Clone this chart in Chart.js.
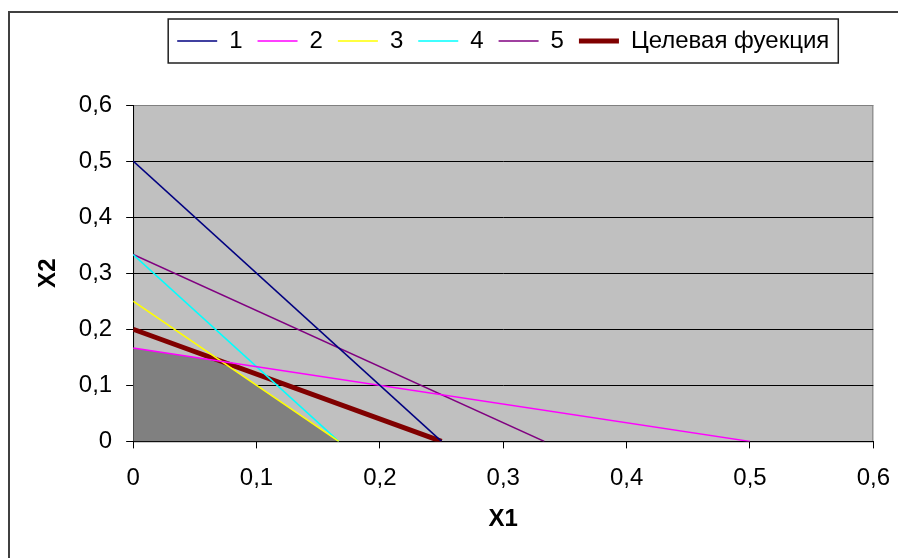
<!DOCTYPE html>
<html>
<head>
<meta charset="UTF-8"/>
<title>Графическое решение задачи ЛП</title>
<script src="https://cdn.jsdelivr.net/npm/chart.js@4.4.0/dist/chart.umd.min.js"></script>
<style>
    html, body { margin: 0; padding: 0; overflow: hidden; background: #fff; }
    /* рамка области диаграммы (уходит за край окна) */
    #frame {
        position: absolute; left: 8px; top: 11px;
        width: 1000px; height: 1000px;
        border-top: 2px solid #404040;
        border-left: 2px solid #404040;
    }
    /* чуть шире окна: справа только пустое поле под подписью 0,6 */
    #chartBox { position: absolute; left: 0; top: 0; width: 906px; height: 558px; }
</style>
</head>
<body>
<div id="frame"></div>
<div id="chartBox">
    <canvas id="lpChart"></canvas>
</div>

<script type="text/javascript">

    // ограничения: точки пересечения с осями [x1, x2]
    var line1 = [[0, 0.5], [0.25, 0]];
    var line2 = [[0, 0.1667], [0.5, 0]];
    var line3 = [[0, 0.25], [0.1667, 0]];
    var line4 = [[0, 0.3333], [0.1667, 0]];
    var line5 = [[0, 0.3333], [0.3333, 0]];
    // целевая функция
    var target = [[0, 0.2], [0.25, 0]];
    // область допустимых решений
    var region = [[0, 0.1667], [0.0714, 0.1429], [0.1667, 0]];

    var seriesNames = ['1', '2', '3', '4', '5', 'Целевая фуекция'];
    var tickLabels = ['0', '0,1', '0,2', '0,3', '0,4', '0,5', '0,6'];

    var FONT = 'Liberation Sans, Arial, sans-serif';

    function pts(arr) {
        return arr.map(function (p) { return {x: p[0], y: p[1]}; });
    }

    function series(i, data, color, width) {
        return {
            label: seriesNames[i],
            data: pts(data),
            showLine: true,
            borderColor: color,
            backgroundColor: color,
            borderWidth: width,
            pointRadius: 0,
            fill: false
        };
    }

    // серый фон, рамка области построения, рамка легенды
    var plotFrame = {
        id: 'plotFrame',
        beforeInit: function (chart) {
            var legend = chart.legend;
            if (!legend) return;
            var fit = legend.fit;
            legend.fit = function () {
                fit.call(this);
                this.height = 91; // место под легендой
            };
        },
        afterLayout: function (chart) {
            // легенда по центру области построения
            chart.legend.left = chart.chartArea.left;
            chart.legend.right = chart.chartArea.right;
        },
        beforeDraw: function (chart) {
            var a = chart.chartArea, ctx = chart.ctx;
            ctx.save();
            ctx.fillStyle = '#c0c0c0';
            ctx.fillRect(a.left, a.top, a.right - a.left, a.bottom - a.top);
            ctx.strokeStyle = '#808080';
            ctx.lineWidth = 1;
            ctx.strokeRect(a.left + 0.5, a.top + 0.5, a.right - a.left - 1, a.bottom - a.top);
            ctx.restore();
        },
        afterDraw: function (chart) {
            var boxes = chart.legend.legendHitBoxes;
            if (!boxes || !boxes.length) return;
            var l = Infinity, r = -Infinity;
            boxes.forEach(function (b) {
                l = Math.min(l, b.left);
                r = Math.max(r, b.left + b.width);
            });
            var cy = boxes[0].top + boxes[0].height / 2;
            var ctx = chart.ctx;
            ctx.save();
            ctx.strokeStyle = '#202020';
            ctx.lineWidth = 1.5;
            ctx.strokeRect(l - 9, cy - 22, r - l + 18, 44);
            ctx.restore();
        }
    };

    var ctx = document.getElementById('lpChart').getContext('2d');
    var lpChart = new Chart(ctx, {
        type: 'scatter',
        data: {
            datasets: [
                series(0, line1, '#000080', 1.5),
                series(1, line2, '#ff00ff', 1.5),
                series(2, line3, '#ffff00', 1.5),
                series(3, line4, '#00ffff', 1.5),
                series(4, line5, '#800080', 1.5),
                series(5, target, '#800000', 5),
                {
                    label: 'ОДР',
                    data: pts(region),
                    showLine: true,
                    fill: 'origin',
                    backgroundColor: '#808080',
                    borderColor: 'rgba(0,0,0,0)',
                    borderWidth: 1,
                    pointRadius: 0
                }
            ]
        },
        options: {
            responsive: true,
            maintainAspectRatio: false,
            animation: false,
            layout: { padding: { left: 20, right: 17, top: 14, bottom: 20 } },
            plugins: {
                tooltip: { enabled: false },
                legend: {
                    position: 'top',
                    onClick: function () { return false; },
                    labels: {
                        usePointStyle: true,
                        pointStyle: 'line',
                        pointStyleWidth: 40,
                        padding: 15,
                        color: '#000',
                        font: { family: FONT, size: 24 },
                        filter: function (item) { return item.datasetIndex < 6; }
                    }
                }
            },
            scales: {
                x: {
                    type: 'linear',
                    min: 0,
                    max: 0.6,
                    ticks: {
                        stepSize: 0.1,
                        padding: 16,
                        color: '#000',
                        font: { family: FONT, size: 24 },
                        callback: function (v, i) { return tickLabels[i]; }
                    },
                    grid: { drawOnChartArea: false, drawTicks: true, tickLength: 7, tickColor: '#000' },
                    border: { color: '#000', width: 1 },
                    title: {
                        display: true,
                        text: 'X1',
                        color: '#000',
                        font: { family: FONT, size: 24, weight: 'bold' },
                        padding: { top: -4, bottom: 4 }
                    }
                },
                y: {
                    min: 0,
                    max: 0.6,
                    ticks: {
                        stepSize: 0.1,
                        padding: 14,
                        color: '#000',
                        font: { family: FONT, size: 24 },
                        callback: function (v, i) { return tickLabels[i]; }
                    },
                    grid: {
                        color: function (c) { return c.tick && c.tick.value > 0.55 ? '#808080' : '#000'; },
                        tickLength: 7,
                        tickColor: '#000'
                    },
                    border: { color: '#000', width: 1 },
                    title: {
                        display: true,
                        text: 'X2',
                        color: '#000',
                        font: { family: FONT, size: 24, weight: 'bold' },
                        padding: { top: 14, bottom: 2 }
                    }
                }
            }
        },
        plugins: [plotFrame]
    });
</script>
</body>
</html>
